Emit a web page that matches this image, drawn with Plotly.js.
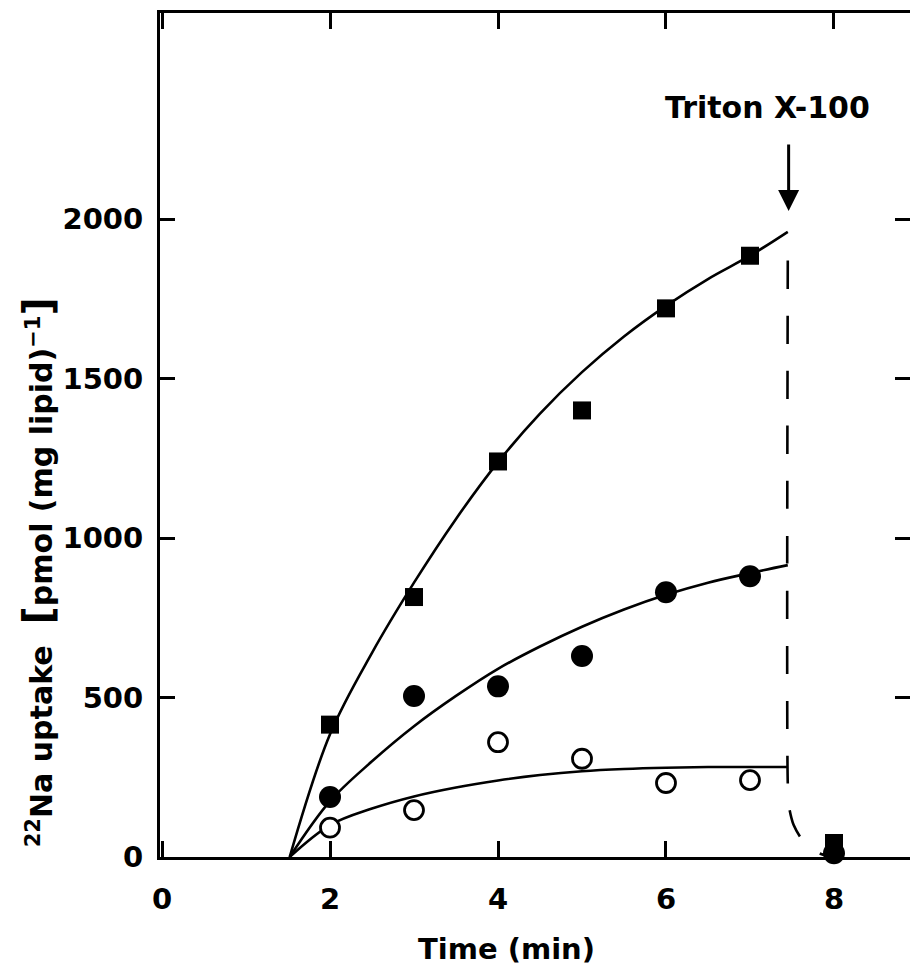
<!DOCTYPE html>
<html>
<head>
<meta charset="utf-8">
<script src="https://cdn.plot.ly/plotly-3.0.1.min.js"></script>
<style>
  html, body { margin: 0; padding: 0; background: #ffffff; overflow: hidden; }
  #chart { width: 912px; height: 966px; }
</style>
</head>
<body>
<div id="chart"></div>
<script>
// Measured points (min, pmol/mg lipid)
var timeAll = [2, 3, 4, 5, 6, 7, 8];
var squareVals = [415, 815, 1240, 1400, 1720, 1885, 44];
var filledCircleVals = [188, 505, 535, 630, 830, 880, 12];
var timeOpen = [2, 3, 4, 5, 6, 7];
var openCircleVals = [92, 147, 360, 308, 232, 241];

// Drawn curves
var curveTime = [1.52, 2, 2.5, 3, 3.5, 4, 4.5, 5, 5.5, 6, 6.5, 7, 7.45];
var squareCurve = [0, 385, 640, 860, 1060, 1238, 1390, 1520, 1632, 1728, 1812, 1885, 1960];
var filledCurve = [0, 175, 300, 410, 505, 590, 660, 722, 776, 822, 860, 890, 915];
var openCurve = [0, 100, 152, 190, 218, 240, 257, 269, 276, 280, 282, 282, 282];

// Dashed drop after Triton X-100
var dashTime = [7.45, 7.45, 7.47, 7.52, 7.6, 7.7, 7.82, 7.92];
var dashVals = [1870, 230, 150, 100, 62, 32, 12, 3];

// Tick labels
var xTicks = [0, 2, 4, 6, 8];
var yTicks = [0, 500, 1000, 1500, 2000];

var FONT = 'DejaVu Sans, Liberation Sans, Arial, sans-serif';

var lineStyle = {color: '#000', width: 2.6, shape: 'spline', smoothing: 1};

var traces = [
  {x: curveTime, y: squareCurve, mode: 'lines', line: lineStyle, hoverinfo: 'skip', showlegend: false},
  {x: curveTime, y: filledCurve, mode: 'lines', line: lineStyle, hoverinfo: 'skip', showlegend: false},
  {x: curveTime, y: openCurve, mode: 'lines', line: lineStyle, hoverinfo: 'skip', showlegend: false},
  {x: dashTime, y: dashVals, mode: 'lines', line: {color: '#000', width: 2.6, dash: '28px,27px', shape: 'spline', smoothing: 0.6}, hoverinfo: 'skip', showlegend: false},
  {x: timeAll, y: squareVals, mode: 'markers', cliponaxis: false,
   marker: {symbol: 'square', size: 18, color: '#000'}, showlegend: false},
  {x: timeAll, y: filledCircleVals, mode: 'markers', cliponaxis: false,
   marker: {symbol: 'circle', size: 22, color: '#000'}, showlegend: false},
  {x: timeOpen, y: openCircleVals, mode: 'markers', cliponaxis: false,
   marker: {symbol: 'circle', size: 19, color: '#fff', line: {color: '#000', width: 2.8}}, showlegend: false}
];

var axisCommon = {
  showgrid: false, zeroline: false, showline: true, linecolor: '#000', linewidth: 3,
  mirror: 'ticks', ticks: 'inside', tickcolor: '#000', tickwidth: 3,
  tickfont: {family: FONT, size: 29, color: '#000', weight: 'bold'}
};

var layout = {
  width: 912, height: 966,
  margin: {l: 160, r: 2, t: 13, b: 109, pad: 0},
  paper_bgcolor: '#fff', plot_bgcolor: '#fff',
  font: {family: FONT, color: '#000'},
  xaxis: Object.assign({}, axisCommon, {
    range: [-0.024, 8.905], tickmode: 'array', tickvals: xTicks, ticktext: xTicks.map(String),
    ticklen: 16, ticklabelstandoff: 14
  }),
  yaxis: Object.assign({}, axisCommon, {
    range: [0, 2646], tickmode: 'array', tickvals: yTicks, ticktext: yTicks.map(String),
    ticklen: 15, ticklabelstandoff: 8
  }),
  annotations: [
    {xref: 'paper', yref: 'paper', x: 0.4626, y: -0.109, xanchor: 'center', yanchor: 'middle',
     showarrow: false, text: 'Time (min)', font: {family: FONT, size: 29, color: '#000', weight: 'bold'}},
    {xref: 'paper', yref: 'paper', x: -0.163, y: 0.337, xanchor: 'center', yanchor: 'middle',
     textangle: -90, showarrow: false,
     text: '<sup>22</sup>Na uptake  <span style="font-size:40px">[</span>pmol (mg lipid)<sup>−1</sup><span style="font-size:40px">]</span>',
     font: {family: FONT, size: 30, color: '#000', weight: 'bold'}},
    {xref: 'x', yref: 'y', x: 7.21, y: 2351, xanchor: 'center', yanchor: 'middle',
     showarrow: false, text: 'Triton X-100', font: {family: FONT, size: 30, color: '#000', weight: 'bold'}},
    {xref: 'x', yref: 'y', x: 7.46, y: 2025, ax: 0, ay: -68, text: '', showarrow: true,
     arrowhead: 2, arrowsize: 1.4, arrowwidth: 3, arrowcolor: '#000', standoff: 0}
  ]
};

Plotly.newPlot('chart', traces, layout, {staticPlot: true, displayModeBar: false});
</script>
</body>
</html>
